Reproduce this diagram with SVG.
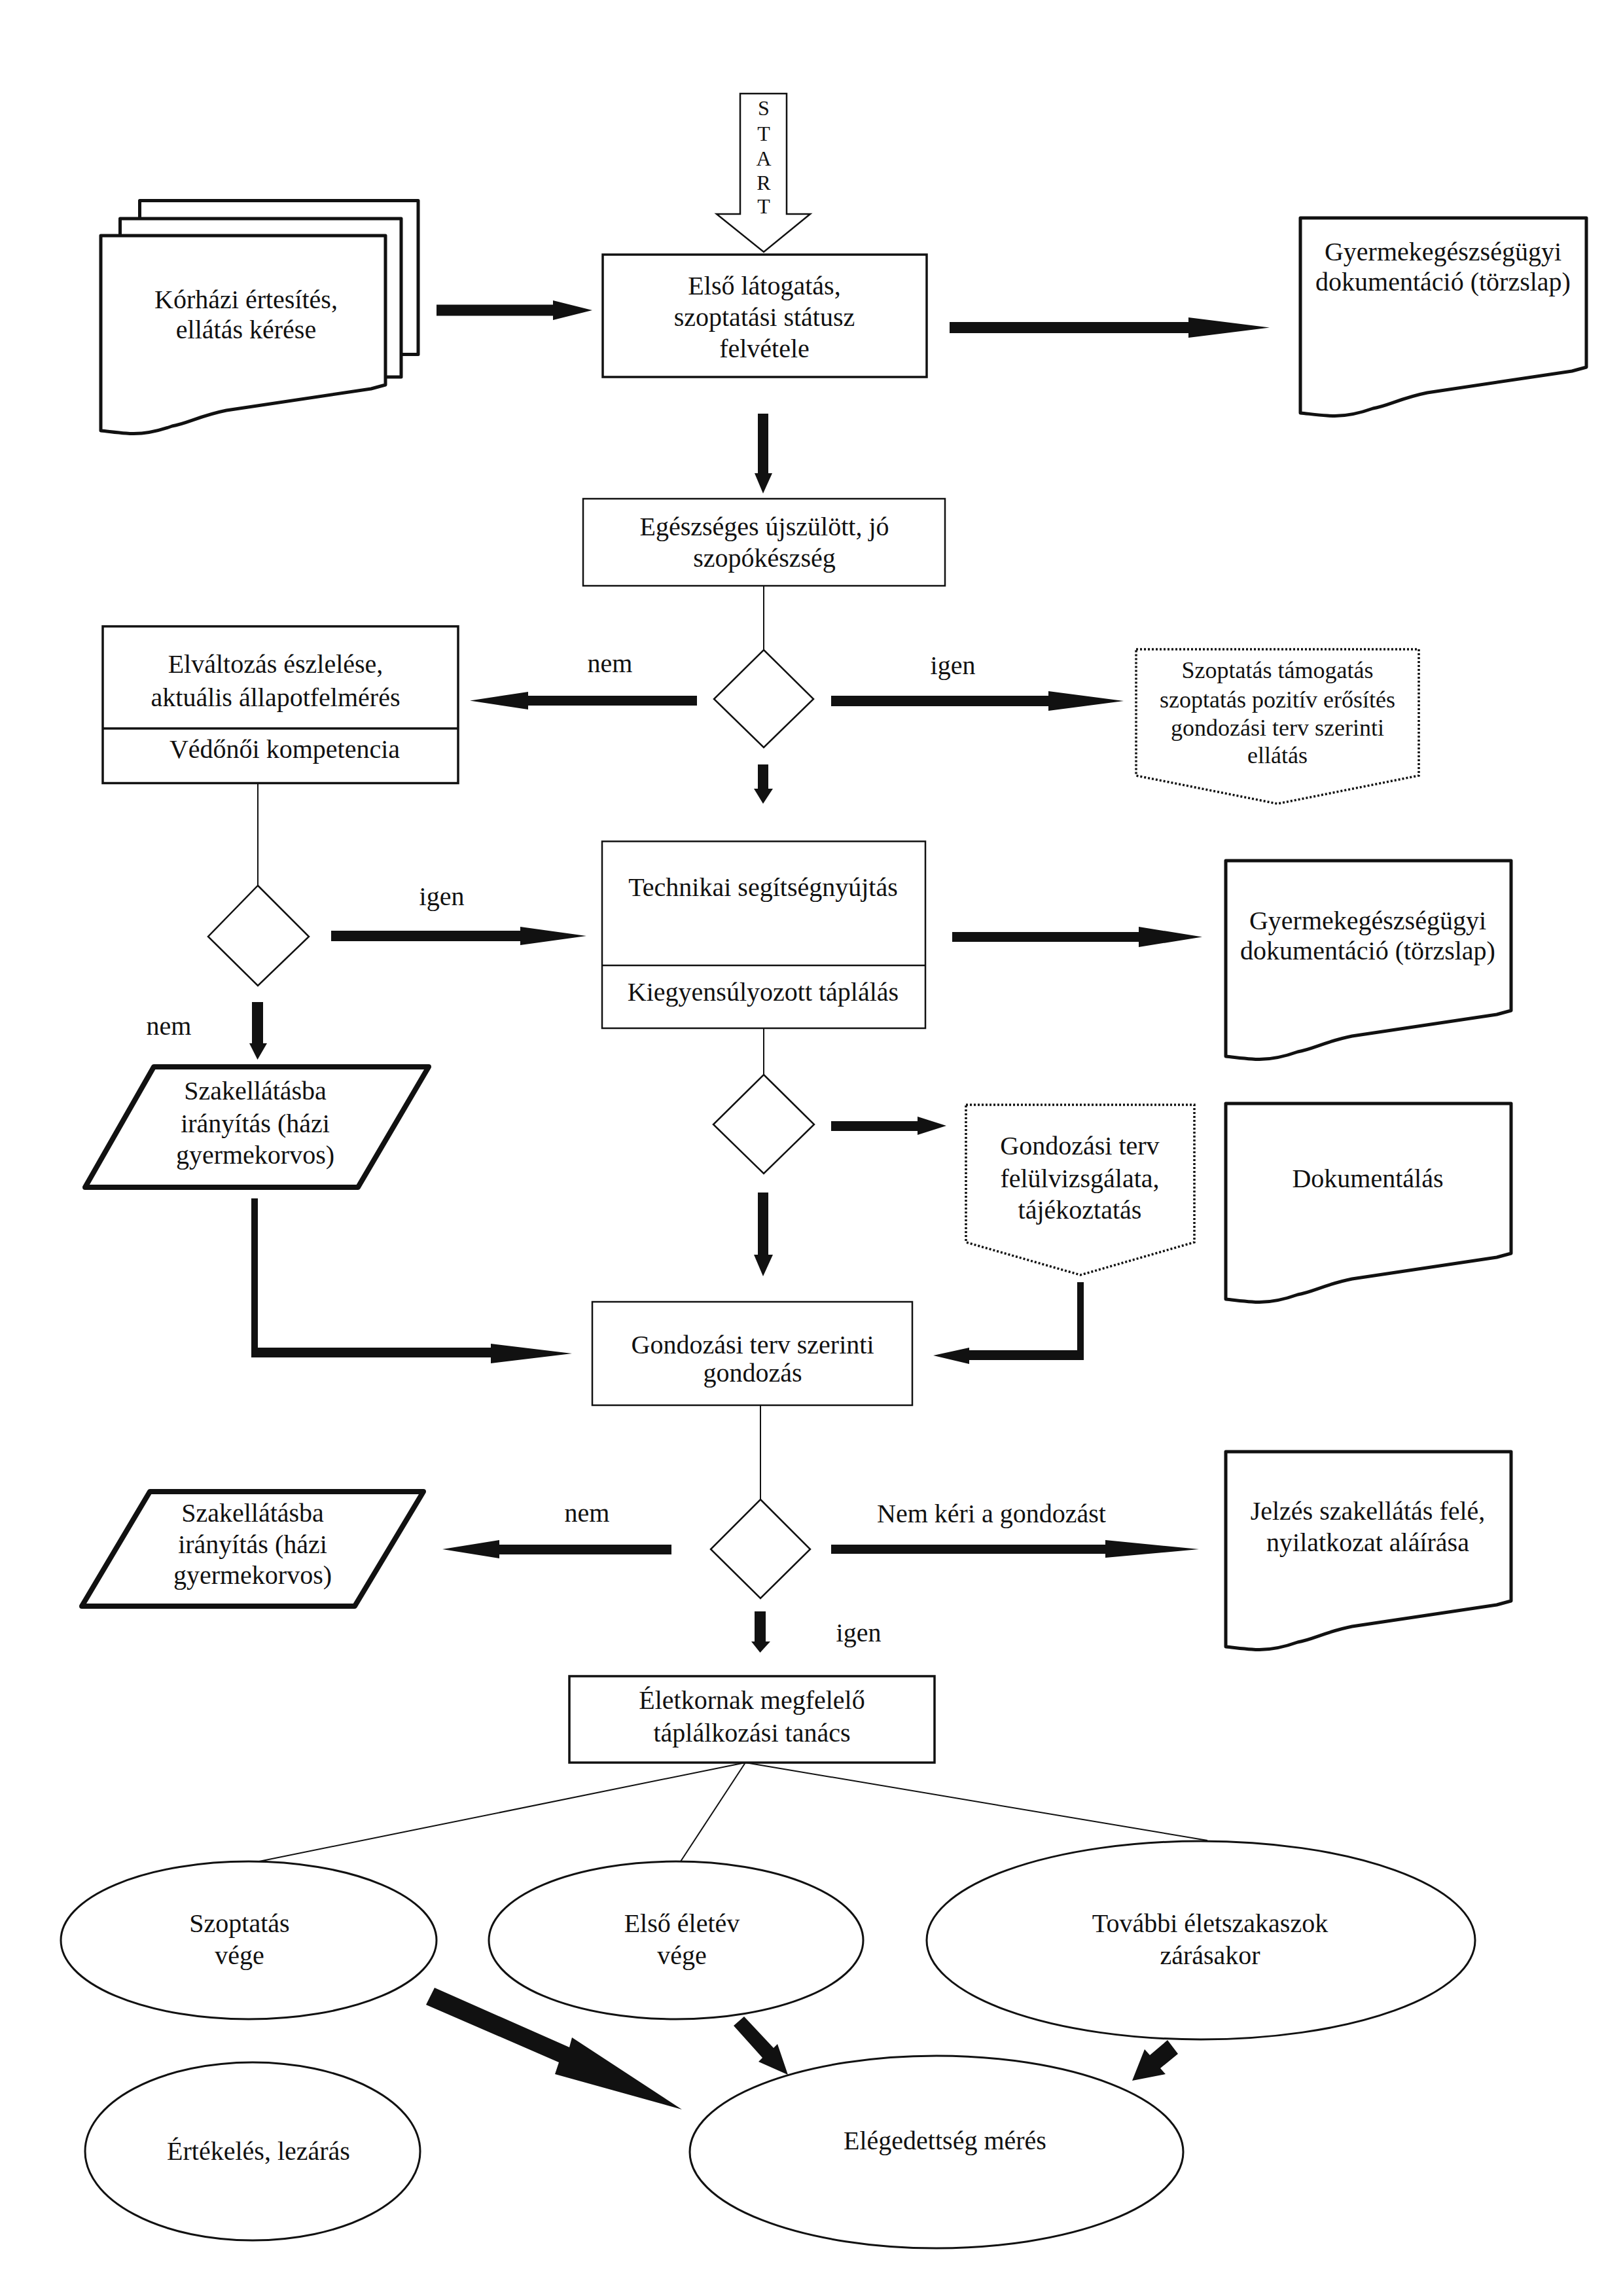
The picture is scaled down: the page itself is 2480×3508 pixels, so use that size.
<svg xmlns="http://www.w3.org/2000/svg" width="2480" height="3508" viewBox="0 0 2480 3508">
<style>
text{font-family:"Liberation Serif","Times New Roman",serif;font-size:40px;fill:#111;text-anchor:middle}
.sm{font-size:36px}
.st{font-size:32px}
.box{fill:#fff;stroke:#111;stroke-width:2.5}
.boxb{fill:#fff;stroke:#111;stroke-width:3.5}
.doc{fill:#fff;stroke:#111;stroke-width:5;stroke-linejoin:round}
.par{fill:#fff;stroke:#111;stroke-width:8;stroke-linejoin:round}
.dia{fill:#fff;stroke:#111;stroke-width:2.5}
.dot{fill:#fff;stroke:#111;stroke-width:3.5;stroke-dasharray:3 3}
.ell{fill:#fff;stroke:#111;stroke-width:3}
.arr{fill:#111;stroke:none}
.thin{stroke:#111;stroke-width:2;fill:none}
</style>
<rect width="2480" height="3508" fill="#fff"/>
<g id="connectors">
<line class="thin" x1="1167" y1="895" x2="1167" y2="993"/>
<line class="thin" x1="394" y1="1196" x2="394" y2="1353"/>
<line class="thin" x1="1167" y1="1571" x2="1167" y2="1642"/>
<line class="thin" x1="1162" y1="2147" x2="1162" y2="2291"/>
<line class="thin" x1="1139" y1="2693" x2="391" y2="2845"/>
<line class="thin" x1="1139" y1="2693" x2="1040" y2="2844"/>
<line class="thin" x1="1139" y1="2693" x2="1845" y2="2812"/>
<path class="arr" d="M667 465.5H845V459L905 474L845 489V482.5H667Z"/>
<path class="arr" d="M1451 492H1816V485L1940 500.5L1816 516V509H1451Z"/>
<path class="arr" d="M1158 632H1174V723H1180L1166 754L1153 723H1158Z"/>
<path class="arr" d="M1065 1063H807V1057L718 1070.5L807 1084V1078H1065Z"/>
<path class="arr" d="M1270 1063H1602V1056L1717 1071L1602 1086V1079H1270Z"/>
<path class="arr" d="M1158 1168H1174V1205H1181L1166 1228L1152 1205H1158Z"/>
<path class="arr" d="M506 1422H795V1416L896 1430L795 1444V1438H506Z"/>
<path class="arr" d="M1455 1424H1740V1416L1837 1431.5L1740 1447V1439H1455Z"/>
<path class="arr" d="M385 1531H402V1594H408L393.5 1619L381 1594H385Z"/>
<path class="arr" d="M1270 1713H1402V1706L1446 1720L1402 1734V1728H1270Z"/>
<path class="arr" d="M1158 1822H1174V1917H1181L1166 1950L1152 1917H1158Z"/>
<path class="arr" d="M384 1831H394V2059H750V2053L874 2068L750 2083V2074H384Z"/>
<path class="arr" d="M1656 1959V2078H1481V2084L1426 2071L1481 2059V2063H1646V1959Z"/>
<path class="arr" d="M1026 2360H763V2353L676 2367L763 2381V2375H1026Z"/>
<path class="arr" d="M1270 2360H1689V2353L1832 2367L1689 2380V2374H1270Z"/>
<path class="arr" d="M1153 2462H1170V2508H1177L1161.5 2525L1148 2508H1153Z"/>
<path class="arr" d="M664 3037L870 3128L874 3113L1042 3223L848 3169L854 3151L651 3063Z"/>
<path class="arr" d="M1137 3081L1182 3129L1188 3123L1204 3170L1159 3150L1165 3144L1121 3095Z"/>
<path class="arr" d="M1784 3117L1757 3140L1749 3131L1730 3179L1781 3169L1773 3160L1800 3138Z"/>
</g>
<g id="start">
<path d="M1131 143H1202V327H1238L1167 385L1095 327H1131Z" fill="#fff" stroke="#111" stroke-width="2.5"/>
<text class="st" x="1167" y="176">S</text>
<text class="st" x="1167" y="215">T</text>
<text class="st" x="1167" y="253">A</text>
<text class="st" x="1167" y="290">R</text>
<text class="st" x="1167" y="326">T</text>
</g>
<g id="korhazi">
<rect class="doc" x="213.5" y="306.6" width="425.5" height="235" stroke-width="4.5"/>
<rect class="doc" x="183.5" y="334" width="429.5" height="242" stroke-width="4.5"/>
<path class="doc" stroke-width="4.5" d="M154 360H589V588l-22 6l-221 33c-40 8 -60 20 -83 24c-25 9 -50 13 -70 11c-15 -1 -28 -3 -39 -4Z"/>
<text x="376" y="471">Kórházi értesítés,</text>
<text x="376" y="517">ellátás kérése</text>
</g>
<g id="elso-latogatas">
<rect class="boxb" x="921" y="389" width="495" height="187"/>
<text x="1168" y="450">Első látogatás,</text>
<text x="1168" y="498">szoptatási státusz</text>
<text x="1168" y="546">felvétele</text>
</g>
<g id="doc-torzslap-1">
<path class="doc" d="M1987 333H2424V561l-22 6l-221 33c-40 8 -60 20 -83 24c-25 9 -50 13 -70 11c-15 -1 -30 -3 -41 -4Z"/>
<text x="2205" y="398">Gyermekegészségügyi</text>
<text x="2205" y="444">dokumentáció (törzslap)</text>
</g>
<g id="egeszseges">
<rect class="box" x="891" y="762" width="553" height="133"/>
<text x="1168" y="818">Egészséges újszülött, jó</text>
<text x="1168" y="866">szopókészség</text>
</g>
<g id="dontes-1">
<path class="dia" d="M1167 993L1243 1068L1167 1142L1091 1068Z"/>
</g>
<text x="932" y="1027">nem</text>
<text x="1456" y="1030">igen</text>
<g id="elvaltozas">
<rect class="boxb" x="157" y="957" width="543" height="239.5"/>
<line x1="157" y1="1113" x2="700" y2="1113" stroke="#111" stroke-width="3.5"/>
<text x="421" y="1028">Elváltozás észlelése,</text>
<text x="421" y="1079">aktuális állapotfelmérés</text>
<text x="435" y="1158">Védőnői kompetencia</text>
</g>
<g id="szoptatas-tamogatas">
<path class="dot" d="M1736 992H2168V1185L1952 1228L1736 1185Z"/>
<text class="sm" x="1952" y="1036">Szoptatás támogatás</text>
<text class="sm" x="1952" y="1081">szoptatás pozitív erősítés</text>
<text class="sm" x="1952" y="1124">gondozási terv szerinti</text>
<text class="sm" x="1952" y="1166">ellátás</text>
</g>
<g id="dontes-2">
<path class="dia" d="M394 1353L472 1431L394 1506L318 1431Z"/>
</g>
<text x="675" y="1383">igen</text>
<text x="258" y="1581">nem</text>
<g id="technikai">
<rect class="box" x="920" y="1285.5" width="494" height="285.5"/>
<line x1="920" y1="1475" x2="1414" y2="1475" stroke="#111" stroke-width="2.5"/>
<text x="1166" y="1369">Technikai segítségnyújtás</text>
<text x="1166" y="1529">Kiegyensúlyozott táplálás</text>
</g>
<g id="doc-torzslap-2">
<path class="doc" d="M1873 1315H2309V1544l-22 6l-221 33c-40 8 -60 20 -83 24c-25 9 -50 13 -70 11c-15 -1 -29 -3 -40 -4Z"/>
<text x="2090" y="1420">Gyermekegészségügyi</text>
<text x="2090" y="1466">dokumentáció (törzslap)</text>
</g>
<g id="dontes-3">
<path class="dia" d="M1167 1642L1244 1718L1167 1793L1090 1718Z"/>
</g>
<g id="szakellatas-1">
<path class="par" d="M235 1630H655L547 1814H130Z"/>
<text x="390" y="1680">Szakellátásba</text>
<text x="390" y="1730">irányítás (házi</text>
<text x="390" y="1778">gyermekorvos)</text>
</g>
<g id="felulvizsgalat">
<path class="dot" d="M1476 1688H1825V1898L1651 1948L1476 1898Z"/>
<text x="1650" y="1764">Gondozási terv</text>
<text x="1650" y="1814">felülvizsgálata,</text>
<text x="1650" y="1862">tájékoztatás</text>
</g>
<g id="dokumentalas">
<path class="doc" d="M1873 1686H2309V1915l-22 6l-221 33c-40 8 -60 20 -83 24c-25 9 -50 13 -70 11c-15 -1 -29 -3 -40 -4Z"/>
<text x="2090" y="1814">Dokumentálás</text>
</g>
<g id="gondozas">
<rect class="box" x="905" y="1989" width="489" height="158"/>
<text x="1150" y="2068">Gondozási terv szerinti</text>
<text x="1150" y="2111">gondozás</text>
</g>
<g id="dontes-4">
<path class="dia" d="M1162 2291L1238 2367L1162 2442L1086 2367Z"/>
</g>
<text x="897" y="2325">nem</text>
<text x="1515" y="2326">Nem kéri a gondozást</text>
<text x="1312" y="2508">igen</text>
<g id="szakellatas-2">
<path class="par" d="M229 2279H647L542 2454H125Z"/>
<text x="386" y="2325">Szakellátásba</text>
<text x="386" y="2373">irányítás (házi</text>
<text x="386" y="2420">gyermekorvos)</text>
</g>
<g id="jelzes">
<path class="doc" d="M1873 2218H2309V2446l-22 6l-221 33c-40 8 -60 20 -83 24c-25 9 -50 13 -70 11c-15 -1 -29 -3 -40 -4Z"/>
<text x="2090" y="2322">Jelzés szakellátás felé,</text>
<text x="2090" y="2370">nyilatkozat aláírása</text>
</g>
<g id="eletkornak">
<rect class="boxb" x="870" y="2561" width="558" height="132"/>
<text x="1149" y="2611">Életkornak megfelelő</text>
<text x="1149" y="2661">táplálkozási tanács</text>
</g>
<g id="szoptatas-vege">
<ellipse class="ell" cx="380" cy="2964.5" rx="287" ry="120.5"/>
<text x="366" y="2952">Szoptatás</text>
<text x="366" y="3001">vége</text>
</g>
<g id="elso-eletev">
<ellipse class="ell" cx="1033" cy="2964.5" rx="286" ry="120.5"/>
<text x="1042" y="2952">Első életév</text>
<text x="1042" y="3001">vége</text>
</g>
<g id="tovabbi">
<ellipse class="ell" cx="1835" cy="2964.5" rx="419" ry="151.5"/>
<text x="1849" y="2952">További életszakaszok</text>
<text x="1849" y="3001">zárásakor</text>
</g>
<g id="ertekeles">
<ellipse class="ell" cx="386" cy="3287" rx="256" ry="136"/>
<text x="395" y="3300">Értékelés, lezárás</text>
</g>
<g id="elegedettseg">
<ellipse class="ell" cx="1431" cy="3288" rx="377" ry="147"/>
<text x="1444" y="3284">Elégedettség mérés</text>
</g>
</svg>
